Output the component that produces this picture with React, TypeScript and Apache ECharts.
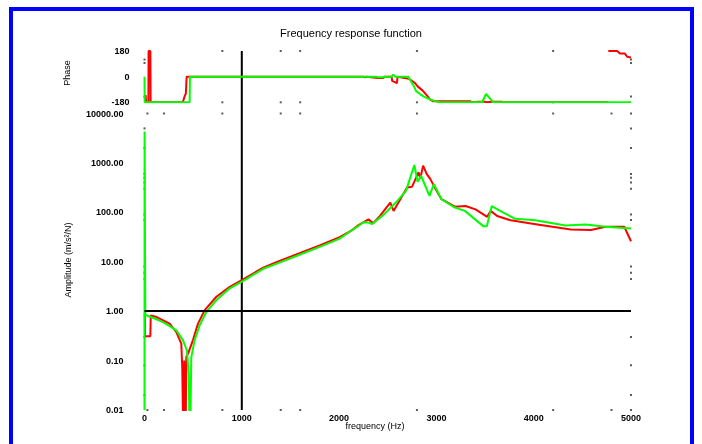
import React, { useEffect, useRef } from "react";
import * as echarts from "echarts";

// ---- data ----
const ampGreenFreq = [0, 1, 8, 34, 100, 189, 260, 326, 395, 436, 455, 462, 472, 481, 515, 567, 636, 739, 876, 1014, 1220, 1374, 1600, 1800, 2000, 2113, 2180, 2251, 2300, 2339, 2461, 2599, 2687, 2773, 2807, 2842, 2929, 2974, 3052, 3190, 3293, 3484, 3518, 3569, 3655, 3810, 4016, 4326, 4532, 4738, 5000];
const ampGreen = [0.01, 4300, 0.85, 0.8, 0.72, 0.6, 0.5, 0.41, 0.26, 0.16, 0.05, 0.006, 0.006, 0.116, 0.26, 0.52, 0.97, 1.68, 2.9, 4.1, 7.2, 9.4, 14, 20, 29, 41, 50, 63, 62, 58, 91, 170, 272, 910, 415, 550, 215, 373, 184, 125, 107, 52, 52, 134, 107, 74, 69, 54, 57, 51, 47];

const ampRedFreq = [0, 3, 5, 60, 64, 125, 258, 326, 378, 388, 396, 404, 408, 414, 424, 430, 447, 498, 550, 619, 739, 876, 1014, 1220, 1374, 1600, 1800, 2000, 2113, 2200, 2302, 2350, 2420, 2526, 2560, 2698, 2750, 2817, 2835, 2863, 2900, 2938, 2990, 3052, 3190, 3299, 3402, 3522, 3557, 3625, 3763, 4038, 4381, 4588, 4738, 4931, 5000];
const ampRed = [0.9, 0.85, 0.31, 0.31, 0.82, 0.76, 0.56, 0.38, 0.22, 0.073, 0.006, 0.006, 0.1, 0.006, 0.006, 0.12, 0.137, 0.26, 0.56, 1.05, 1.96, 3.1, 4.4, 7.6, 10.2, 15, 21.5, 31, 41, 55, 72, 60, 85, 158, 107, 318, 330, 650, 480, 880, 600, 470, 300, 184, 130, 134, 115, 81, 107, 84, 69, 57, 45, 44, 51, 51, 26];

const phaseGreenFreq = [0, 2, 464, 467, 2380, 2400, 2450, 2470, 2540, 2557, 2575, 2711, 2763, 2790, 2835, 2870, 2920, 2975, 3030, 3470, 3510, 3585, 5000];
const phaseGreen = [0, -180, -180, 0, 0, -5, -5, 0, 0, 15, 0, 0, -60, -100, -124, -140, -155, -170, -180, -180, -122, -180, -180];

const phaseRedFreq = [0, 8, 12, 16, 40, 42, 60, 63, 392, 400, 416, 425, 433, 2250, 2266, 2280, 2400, 2450, 2470, 2540, 2545, 2595, 2600, 2718, 2780, 2810, 2859, 2900, 2934, 2962, 3345, 3360, 3430, 3500, 3510, 3580, 3670, 3690, 4765, 4766, 4767, 4857, 4887, 4938, 4960, 5000];
const phaseRed: (number | null)[] = [-180, -180, -130, -180, -180, 180, 180, -180, -180, -165, -130, -120, 0, 0, -5, 0, -10, -10, 0, 0, -30, -45, 0, -15, -45, -70, -98, -130, -160, -172, -172, -180, -176, -176, -180, -176, -176, -180, -180, null, 180, 180, 162, 162, 140, 135];

const xTicks = [0, 1000, 2000, 3000, 4000, 5000];
const phaseTicks = [-180, 0, 180];
const ampTicks = [0.01, 0.1, 1, 10, 100, 1000, 10000];
const xDotsTop = [800, 1400, 1600, 2800, 4200];
const xDotsBottom = [30, 200, 800, 1400, 1600, 2800, 4200, 4800, 5000];
const phaseDots = [120, 96, -140];
const ampDots = [5000, 2000, 600, 500, 400, 300, 90, 70, 8, 6, 4.5, 0.3, 0.08, 0.02];
const cursorFreq = 1000;
const refAmp = 1;

const RED = "#ff0000";
const GREEN = "#00ff00";
const FONT = "'Liberation Sans', Arial, sans-serif";

function pairs(xs: number[], ys: (number | null)[]) {
  return xs.map((x, i) => [x, ys[i] === null ? "-" : ys[i]]);
}

export default function App() {
  const ref = useRef<HTMLDivElement>(null);
  useEffect(() => {
    if (!ref.current) return;
    const chart = echarts.init(ref.current, null, { renderer: "svg" });
    const labelStyle = { fontSize: 9, fontWeight: "bold", color: "#000", fontFamily: FONT };
    const hidden = { axisLine: { show: false }, axisTick: { show: false }, splitLine: { show: false } };
    const dotSeries = (xi: number, yi: number, pts: number[][]) => ({
      type: "scatter",
      xAxisIndex: xi,
      yAxisIndex: yi,
      data: pts,
      symbol: "rect",
      symbolSize: 2,
      clip: false,
      silent: true,
      itemStyle: { color: "#333" },
      z: 1,
    });
    const topDots: number[][] = [];
    xDotsTop.forEach((f) => { topDots.push([f, phaseTicks[2]]); topDots.push([f, phaseTicks[0]]); });
    phaseDots.forEach((p) => { topDots.push([xTicks[0], p]); topDots.push([xTicks[5], p]); });
    const botDots: number[][] = [];
    xDotsBottom.forEach((f) => { botDots.push([f, ampTicks[6]]); botDots.push([f, ampTicks[0]]); });
    ampDots.forEach((a) => { botDots.push([xTicks[0], a]); botDots.push([xTicks[5], a]); });

    const lineSeries = (xi: number, yi: number, data: any[], color: string, z: number) => ({
      type: "line",
      xAxisIndex: xi,
      yAxisIndex: yi,
      data,
      symbol: "none",
      showSymbol: false,
      connectNulls: false,
      clip: true,
      silent: true,
      lineStyle: { color, width: 2 },
      itemStyle: { color },
      z,
    });

    const option: any = {
      animation: false,
      backgroundColor: "transparent",
      title: {
        text: "Frequency response function",
        left: "center",
        top: 27,
        padding: 0,
        textStyle: { fontSize: 11, fontWeight: "normal", color: "#000", fontFamily: FONT },
      },
      grid: [
        { left: 144.5, right: 71, top: 51, height: 51.3 },
        { left: 144.5, right: 71, top: 113.5, height: 296.5 },
      ],
      xAxis: [
        { gridIndex: 0, type: "value", min: xTicks[0], max: xTicks[5], interval: 1000, ...hidden, axisLabel: { show: false } },
        {
          gridIndex: 1, type: "value", min: xTicks[0], max: xTicks[5], interval: 1000, ...hidden,
          axisLabel: { show: true, margin: 3, ...labelStyle, formatter: (v: number) => String(v) },
        },
      ],
      yAxis: [
        { gridIndex: 0, type: "value", min: phaseTicks[0], max: phaseTicks[2], interval: 180, ...hidden, axisLabel: { margin: 15, ...labelStyle } },
        {
          gridIndex: 1, type: "log", logBase: 10, min: ampTicks[0], max: ampTicks[6], ...hidden,
          axisLabel: { margin: 21, ...labelStyle, formatter: (v: number) => Number(v).toFixed(2) },
        },
      ],
      series: [
        dotSeries(0, 0, topDots),
        dotSeries(1, 1, botDots),
        lineSeries(0, 0, pairs(phaseRedFreq, phaseRed), RED, 3),
        lineSeries(0, 0, pairs(phaseGreenFreq, phaseGreen), GREEN, 4),
        {
          ...lineSeries(1, 1, pairs(ampRedFreq, ampRed), RED, 3),
          markLine: {
            silent: true,
            symbol: "none",
            label: { show: false },
            lineStyle: { color: "#000", width: 2, type: "solid" },
            data: [{ yAxis: refAmp }],
          },
        },
        lineSeries(1, 1, pairs(ampGreenFreq, ampGreen), GREEN, 4),
      ],
      graphic: [
        { type: "text", x: 67, y: 73, rotation: Math.PI / 2, style: { text: "Phase", fontSize: 9, fill: "#000", fontFamily: FONT, textAlign: "center", textVerticalAlign: "middle" } },
        { type: "text", x: 68, y: 260, rotation: Math.PI / 2, style: { text: "Amplitude (m/s²/N)", fontSize: 9, fill: "#000", fontFamily: FONT, textAlign: "center", textVerticalAlign: "middle" } },
        { type: "text", x: 375, y: 426, style: { text: "frequency (Hz)", fontSize: 9, fill: "#000", fontFamily: FONT, textAlign: "center", textVerticalAlign: "middle" } },
      ],
    };
    chart.setOption(option);
    const cx = chart.convertToPixel({ xAxisIndex: 1 }, cursorFreq) as number;
    const yTop = chart.convertToPixel({ yAxisIndex: 0 }, phaseTicks[2]) as number;
    const yBot = chart.convertToPixel({ yAxisIndex: 1 }, ampTicks[0]) as number;
    chart.setOption({
      graphic: [
        ...option.graphic,
        { type: "line", z: 2, silent: true, shape: { x1: cx, y1: yTop, x2: cx, y2: yBot }, style: { stroke: "#000", lineWidth: 2 } },
      ],
    });
    return () => chart.dispose();
  }, []);
  return (
    <>
      <div
        style={{
          position: "fixed",
          left: 9,
          top: 7,
          width: 685,
          height: 500,
          border: "4px solid #0000ff",
          boxSizing: "border-box",
        }}
      />
      <div ref={ref} style={{ position: "fixed", left: 0, top: 0, width: 702, height: 444 }} />
    </>
  );
}
